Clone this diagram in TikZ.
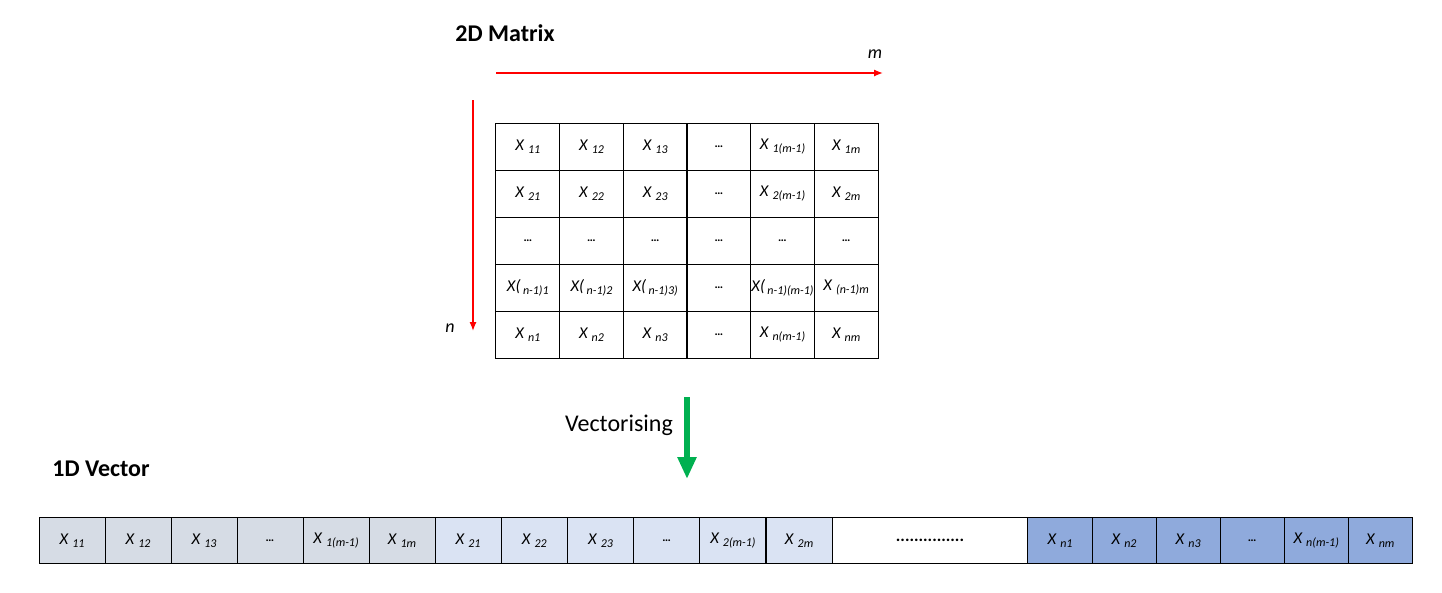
\documentclass[tikz,border=0pt]{standalone}
\usepackage{fontspec}
\setmainfont{Carlito}
\usetikzlibrary{arrows.meta}
\definecolor{gA}{HTML}{D6DCE5}
\definecolor{gB}{HTML}{DAE3F3}
\definecolor{gC}{HTML}{8FAADC}
\definecolor{redax}{HTML}{FF0000}
\definecolor{greenar}{HTML}{00B050}
\newcommand\sbt[1]{\raisebox{-0.35ex}{\fontsize{12}{13}\selectfont #1}}
\newcommand\xsub[1]{X\hspace{0.25em}\sbt{#1}}
\newcommand\xpsub[1]{X(\hspace{0.15em}\sbt{#1}}
\newcommand\celldots{\sbt{\textup{\bfseries …}}}
\begin{document}
\begin{tikzpicture}[x=1pt,y=-1pt,
  cell/.style={draw=black,line width=1pt,minimum width=63.7pt,minimum height=47pt,inner sep=0pt,
    font=\fontsize{16.5}{18}\selectfont\itshape,anchor=center},
  vcell/.style={draw=black,line width=1pt,minimum width=66pt,minimum height=46.7pt,inner sep=0pt,
    font=\fontsize{16.5}{18}\selectfont\itshape,anchor=center},
  ncell/.style={vcell,minimum width=64.1pt},
  title/.style={font=\fontsize{24}{28}\selectfont\bfseries},
  redarrow/.style={draw=redax,fill=redax,line width=1.3pt,-{Latex[length=9pt,width=7pt]}},
  axlabel/.style={font=\fontsize{18}{20}\selectfont\itshape}]
\useasboundingbox (0,0) rectangle (1442,592);

% titles
\node[title] (t2d) at (505,33) {2D Matrix};
\node[title] (t1d) at (101,469) {1D Vector};

% axes
\coordinate (ms) at (496,73);
\coordinate (me) at (883,73);
\draw[redarrow] (ms) -- (me);
\node[axlabel] (mlab) at (875,54) {m};
\coordinate (ns) at (473,100);
\coordinate (ne) at (473,331);
\draw[redarrow] (ns) -- (ne);
\node[axlabel] (nlab) at (450,328) {n};

% matrix cells
\def\cw{63.667}
\foreach \t [count=\c] in {\xsub{11},\xsub{12},\xsub{13},\celldots,\xsub{1(m-1)},\xsub{1m}}{
  \node[cell] (m-1-\c) at ({496+(\c-0.5)*\cw},146.5) {\t};}
\foreach \t [count=\c] in {\xsub{21},\xsub{22},\xsub{23},\celldots,\xsub{2(m-1)},\xsub{2m}}{
  \node[cell] (m-2-\c) at ({496+(\c-0.5)*\cw},193.5) {\t};}
\foreach \c in {1,...,6}{
  \node[cell] (m-3-\c) at ({496+(\c-0.5)*\cw},240.5) {\celldots};}
\foreach \t [count=\c] in {\xpsub{n-1)1},\xpsub{n-1)2},\xpsub{n-1)3)},\celldots,\xpsub{n-1)(m-1)},\xsub{(n-1)m}}{
  \node[cell] (m-4-\c) at ({496+(\c-0.5)*\cw},287.5) {\t};}
\foreach \t [count=\c] in {\xsub{n1},\xsub{n2},\xsub{n3},\celldots,\xsub{n(m-1)},\xsub{nm}}{
  \node[cell] (m-5-\c) at ({496+(\c-0.5)*\cw},334.5) {\t};}

% green arrow
\coordinate (gs) at (687,397);
\coordinate (ge) at (687,479);
\draw[draw=greenar,fill=greenar,line width=6pt,-{Triangle[length=22pt,width=18pt]}] (gs) -- (ge);
\node[font=\fontsize{24}{28}\selectfont] (vlab) at (619,425) {Vectorising};

% vector cells
\foreach \t [count=\i] in {\xsub{11},\xsub{12},\xsub{13},\celldots,\xsub{1(m-1)},\xsub{1m}}{
  \node[vcell,fill=gA] (v\i) at ({39+(\i-0.5)*66},540.5) {\t};
}
\foreach \t [count=\i] in {\xsub{21},\xsub{22},\xsub{23},\celldots,\xsub{2(m-1)},\xsub{2m}}{
  \node[vcell,fill=gB] (w\i) at ({435+(\i-0.5)*66.2},540.5) {\t};
}
\node[vcell,minimum width=196pt,font=\fontsize{17}{18}\selectfont\bfseries] (gap) at (930,540.5) {...............};
\foreach \t [count=\i] in {\xsub{n1},\xsub{n2},\xsub{n3},\celldots,\xsub{n(m-1)},\xsub{nm}}{
  \node[ncell,fill=gC] (u\i) at ({1028+(\i-0.5)*64.05},540.5) {\t};
}
\end{tikzpicture}
\end{document}
